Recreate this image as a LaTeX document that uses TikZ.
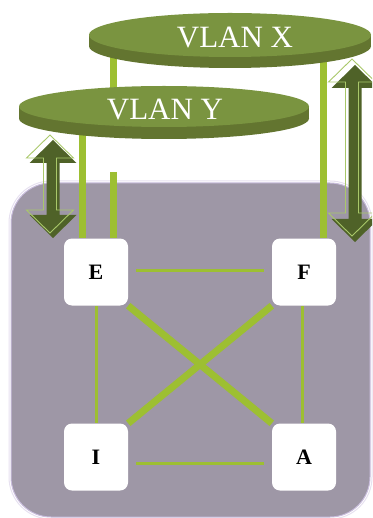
\documentclass[tikz,border=0pt]{standalone}
\usepackage{fontspec}
\setmainfont{Liberation Serif}
\usetikzlibrary{backgrounds,shapes.geometric}

\definecolor{vlantop}{HTML}{7A9440}
\definecolor{vlanside}{HTML}{637530}
\definecolor{linkgreen}{HTML}{9DBF32}
\definecolor{arrowdark}{HTML}{4F6228}
\definecolor{arrowlight}{HTML}{A9C86A}
\definecolor{basegrey}{HTML}{9E97A6}
\definecolor{rimpurple}{HTML}{C9BDDD}

% double headed arrow, tip x, top y, bottom y
\newcommand\updown[3]{(#1,#2) -- ({#1+23.5},{#2+23}) -- ({#1+6.5},{#2+23})
 -- ({#1+6.5},{#3-23}) -- ({#1+23.5},{#3-23}) -- (#1,#3) -- ({#1-23.5},{#3-23})
 -- ({#1-6.5},{#3-23}) -- ({#1-6.5},{#2+23}) -- ({#1-23.5},{#2+23}) -- cycle}

\begin{document}
\begin{tikzpicture}[x=1pt,y=-1pt,
 sw/.style={fill=white,rounded corners=8pt,minimum width=64pt,minimum height=67pt,
  font=\fontsize{22}{22}\selectfont\bfseries},
 disc/.style={ellipse,inner sep=0pt},
 vlan/.style={text=white,font=\fontsize{31}{31}\selectfont},
 link/.style={draw=linkgreen,line width=3pt},
 trunk/.style={draw=linkgreen,line width=7pt}]
\useasboundingbox (0,0) rectangle (372,518);
\clip (0,0) rectangle (372,518);
% VLAN discs
\node[disc,fill=vlanside,minimum width=282pt,minimum height=44pt] (vlanxbase) at (230,46) {};
\fill[vlanside] (vlanxbase.west) rectangle ([yshift=11pt]vlanxbase.east);
\node[disc,fill=vlantop,minimum width=282pt,minimum height=44pt] (vlanx) at (230,35) {};
\node[vlan] (vlanxtext) at (235,38) {VLAN X};
\node[disc,fill=vlanside,minimum width=290pt,minimum height=41pt] (vlanybase) at (164,118.5) {};
\fill[vlanside] (vlanybase.west) rectangle ([yshift=12pt]vlanybase.east);
\node[disc,fill=vlantop,minimum width=290pt,minimum height=41pt] (vlany) at (164,106.5) {};
\node[vlan] (vlanytext) at (165,110) {VLAN Y};
% switches
\node[sw] (e) at (96,272) {E};
\node[sw] (f) at (304,272) {F};
\node[sw] (i) at (96,457) {I};
\node[sw] (a) at (304,457) {A};
\coordinate (xgap) at (113,172);
% arrows
\fill[arrowdark] \updown{53}{140}{238};
\draw[arrowlight,line width=.9pt,shift={(-3,-5)}] \updown{53}{140}{238};
\fill[arrowdark] \updown{355}{65}{242};
\draw[arrowlight,line width=.9pt,shift={(-3,-6)}] \updown{355}{65}{242};
\begin{pgfonlayer}{background}
\draw[rimpurple!45,line width=1pt,rounded corners=42pt] (9,181) rectangle (372,519);
\draw[rimpurple,fill=basegrey,line width=1pt,rounded corners=40pt] (11,183) rectangle (370,517);
\draw[link,shorten <=8pt,shorten >=8pt] ([yshift=2pt]e.east) -- ([yshift=2pt]f.west);
\draw[link,shorten <=8pt,shorten >=8pt] ([yshift=-6pt]i.east) -- ([yshift=-6pt]a.west);
\draw[link] (e.south) -- (i.north);
\draw[link] ([xshift=-2pt]f.south) -- ([xshift=-2pt]a.north);
\draw[trunk] (e.south east) -- (a.north west);
\draw[trunk] (f.south west) -- (i.north east);
\draw[trunk] ([xshift=-14pt]e.north) -- ([xshift=-14pt]e.north |- vlany.center);
\draw[trunk] (xgap) -- ([xshift=17pt]e.north);
\draw[trunk] (xgap |- vlanx.center) -- (xgap |- vlany.center);
\draw[trunk] ([xshift=19pt]f.north) -- ([xshift=19pt]f.north |- vlanx.center);
\end{pgfonlayer}
\end{tikzpicture}
\end{document}
